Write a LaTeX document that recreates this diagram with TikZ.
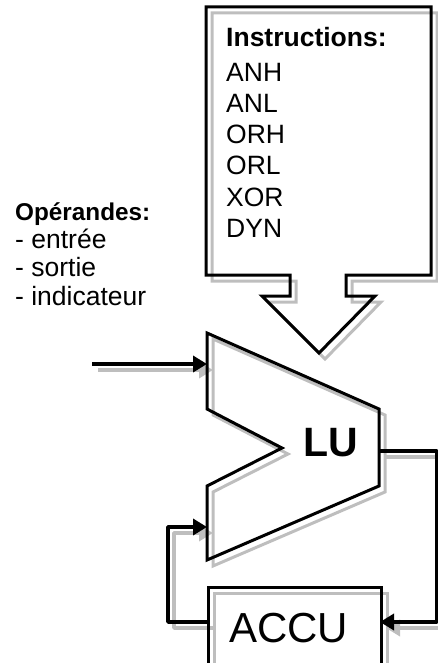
\documentclass[tikz,border=0pt]{standalone}
\usepackage{fontspec}
\setmainfont{Liberation Sans}
\usetikzlibrary{arrows.meta}
\definecolor{shadowgray}{RGB}{190,190,190}
\tikzset{
  wire/.style={line width=3pt},
  flow/.style={line width=3.6pt,line join=round,-{Triangle[length=14pt,width=16pt]}},
  listtext/.style={anchor=base west,inner sep=0pt,font=\fontsize{26.5}{31}\selectfont},
  bigtext/.style={anchor=base,inner sep=0pt,font=\fontsize{42}{48}\selectfont},
}
\begin{document}
\begin{tikzpicture}[x=1pt,y=-1pt]
  \useasboundingbox (0,0) rectangle (438,663);
  \clip (0,0) rectangle (438,663);
  % shadow first, then the black drawing
  \foreach \d/\c in {6/shadowgray,0/black}{
    \begin{scope}[shift={(\d,\d)},color=\c]
      \coordinate (src) at (92,364);
      \coordinate (lu-in1) at (207,364);
      \coordinate (lu-in2) at (207,527);
      \coordinate (lu-out) at (379,451);
      \coordinate (accu-in) at (380,622);
      \coordinate (accu-out) at (207,622);
      % instruction callout
      \draw[wire] (206,7) -- (431,7) -- (431,275) -- (346,275) -- (346,296)
        -- (375,296) -- (319,353) -- (262,296) -- (290,296) -- (290,275)
        -- (206,275) -- cycle;
      % logic unit
      \draw[wire] (207,333) -- (379,409) -- (379,486) -- (207,560) -- (207,486)
        -- (282,448) -- (207,409) -- cycle;
      % accumulator
      \node[wire,draw,anchor=north west,inner sep=0pt,minimum width=173pt,
        minimum height=100pt] (accubox) at (207,586) {};
      \draw[flow] (src) -- (lu-in1);
      \draw[flow] (lu-out) -- ++(58,0) |- (accu-in);
      \draw[flow] (accu-out) -- ++(-39,0) |- (lu-in2);
    \end{scope}
  }
  \node[listtext,font=\fontsize{26.5}{31}\selectfont\bfseries] (instr) at (226,47) {Instructions:};
  \foreach \op [count=\i] in {ANH,ANL,ORH,ORL,XOR,DYN}
    \node[listtext] (instr-\i) at (226,51+31*\i) {\op};
  \node[listtext,font=\fontsize{24.3}{28}\selectfont\bfseries] (oper) at (15,220) {Opérandes:};
  \foreach \op [count=\i] in {- entrée,- sortie,- indicateur}
    \node[listtext] (oper-\i) at (15,219.5+28.5*\i) {\op};
  \node[bigtext,font=\fontsize{41}{48}\selectfont\bfseries] (lu) at (331,456) {LU};
  \node[bigtext] (accu) at (288.5,642) {ACCU};
\end{tikzpicture}
\end{document}
